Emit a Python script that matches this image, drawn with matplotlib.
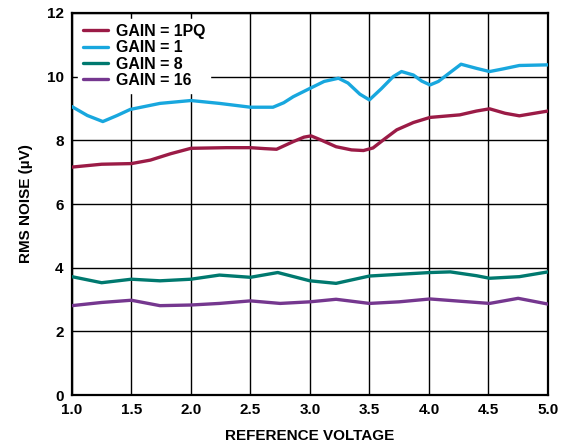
import numpy as np
import matplotlib.pyplot as plt

plt.rcParams['font.family'] = ['Liberation Sans', 'DejaVu Sans']
plt.rcParams['font.weight'] = 'bold'

# values
v_1pq = [1.0, 1.25, 1.5, 1.66, 1.83, 2.0, 2.3, 2.5, 2.62, 2.72, 2.86, 2.95, 3.01, 3.1, 3.22, 3.35, 3.45, 3.53, 3.63, 3.73, 3.87, 4.01, 4.26, 4.4, 4.51, 4.64, 4.76, 5.0]
n_1pq = [7.16, 7.25, 7.27, 7.38, 7.58, 7.75, 7.77, 7.77, 7.74, 7.72, 7.96, 8.10, 8.14, 8.0, 7.80, 7.70, 7.68, 7.76, 8.05, 8.33, 8.56, 8.72, 8.80, 8.92, 8.99, 8.85, 8.77, 8.92]

v_g1 = [1.0, 1.13, 1.26, 1.38, 1.49, 1.74, 2.0, 2.24, 2.5, 2.69, 2.78, 2.86, 3.0, 3.12, 3.24, 3.32, 3.42, 3.5, 3.6, 3.7, 3.77, 3.87, 3.94, 4.01, 4.08, 4.15, 4.27, 4.4, 4.51, 4.62, 4.76, 5.0]
n_g1 = [9.06, 8.78, 8.59, 8.78, 8.97, 9.16, 9.25, 9.16, 9.04, 9.04, 9.18, 9.37, 9.63, 9.85, 9.95, 9.80, 9.45, 9.27, 9.62, 10.0, 10.16, 10.05, 9.86, 9.74, 9.85, 10.05, 10.39, 10.26, 10.16, 10.24, 10.35, 10.37]

v_g8 = [1.0, 1.25, 1.5, 1.74, 2.0, 2.24, 2.5, 2.73, 3.0, 3.22, 3.5, 3.73, 4.01, 4.18, 4.4, 4.51, 4.76, 5.0]
n_g8 = [3.72, 3.53, 3.64, 3.59, 3.64, 3.77, 3.70, 3.85, 3.59, 3.51, 3.74, 3.79, 3.85, 3.87, 3.75, 3.67, 3.72, 3.87]

v_g16 = [1.0, 1.25, 1.5, 1.74, 2.0, 2.24, 2.5, 2.75, 3.0, 3.22, 3.5, 3.75, 4.01, 4.26, 4.51, 4.75, 5.0]
n_g16 = [2.81, 2.91, 2.98, 2.81, 2.83, 2.88, 2.96, 2.88, 2.93, 3.01, 2.88, 2.93, 3.02, 2.95, 2.88, 3.04, 2.86]

xticks = [1.0, 1.5, 2.0, 2.5, 3.0, 3.5, 4.0, 4.5, 5.0]
yticks = [0, 2, 4, 6, 8, 10, 12]

fig = plt.figure(figsize=(5.66, 4.46), dpi=100)
ax = fig.add_axes([0.127, 0.114, 0.841, 0.857])

kw = dict(lw=2.4, zorder=3, solid_joinstyle='round', solid_capstyle='round')
ax.plot(v_1pq, n_1pq, color='#9B1B46', label='GAIN = 1PQ', **kw)
ax.plot(v_g1, n_g1, color='#18A7DE', label='GAIN = 1', **kw)
ax.plot(v_g8, n_g8, color='#00796F', label='GAIN = 8', **kw)
ax.plot(v_g16, n_g16, color='#75378F', label='GAIN = 16', **kw)

ax.set_xlim(1.0, 5.0)
ax.set_ylim(0, 12)
ax.set_xticks(xticks)
ax.set_xticklabels([f'{t:.1f}' for t in xticks])
ax.set_yticks(yticks)
ax.grid(True, color='black', lw=1.0)
ax.tick_params(length=0, labelsize=11, pad=6)
for s in ax.spines.values():
    s.set_linewidth(1.6)

ax.set_xlabel('REFERENCE VOLTAGE', fontsize=11, fontweight='bold', labelpad=8)
ax.set_ylabel('RMS NOISE (µV)', fontsize=11, fontweight='bold', labelpad=10)

leg = ax.legend(loc='upper left', frameon=True, fontsize=11.4, handlelength=1.6,
                borderaxespad=0.4, labelspacing=0.08, handletextpad=0.5,
                borderpad=0.3, fancybox=False)
leg.get_frame().set_edgecolor('white')
leg.get_frame().set_facecolor('white')
leg.get_frame().set_alpha(1.0)
leg.set_zorder(5)

fig.savefig('out.png', dpi=100)
